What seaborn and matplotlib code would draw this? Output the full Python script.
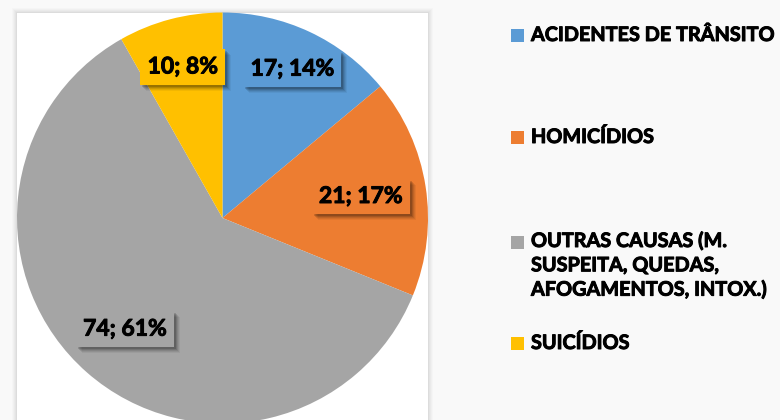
import matplotlib
matplotlib.use("Agg")
import matplotlib.pyplot as plt
import matplotlib.patheffects as pe
from matplotlib.patches import Rectangle
import numpy as np
import seaborn as sns

# Data
categorias = ["ACIDENTES DE TRÂNSITO", "HOMICÍDIOS",
              "OUTRAS CAUSAS (M.\nSUSPEITA, QUEDAS,\nAFOGAMENTOS, INTOX.)", "SUICÍDIOS"]
valores = [17, 21, 74, 10]
percentuais = [14, 17, 61, 8]
cores = sns.color_palette(["#5B9BD5", "#ED7D31", "#A5A5A5", "#FFC000"])

sns.set_theme(style="white")
plt.rcParams["font.family"] = ["Lato", "DejaVu Sans"]

# thicker strokes, closer to Calibri Bold
grosso = [pe.withStroke(linewidth=0.7, foreground="black")]

fig = plt.figure(figsize=(7.8, 4.2), dpi=100, facecolor="#f9f9f9")
ax = fig.add_axes([0, 0, 1, 1])
ax.set_facecolor("none")

# white frame behind the pie, with soft shadow
for k, a in enumerate([0.03, 0.04, 0.05, 0.06, 0.08]):
    d = 5 - k
    ax.add_patch(Rectangle((17 - d, -10 - d), 411 + 2 * d, 417 + 2 * d,
                           facecolor="#888888", alpha=a, edgecolor="none", zorder=0))
ax.add_patch(Rectangle((17, -10), 411, 417, facecolor="white", edgecolor="none", zorder=0.5))

cx, cy, R = 222.5, 202, 205.5
wedges, _ = ax.pie(valores, colors=cores, startangle=90, counterclock=False,
                   center=(cx, cy), radius=R, frame=True,
                   wedgeprops=dict(linewidth=0, zorder=1))

ax.set_xlim(0, 780)
ax.set_ylim(0, 420)
ax.set_aspect("equal")
ax.axis("off")

# data labels (Excel style boxes with shadow)
raio_rot = [0.80, 0.68, 0.72, 0.76]
rotulos = []
for w, v, p, c, rr in zip(wedges, valores, percentuais, cores, raio_rot):
    ang = np.deg2rad((w.theta1 + w.theta2) / 2)
    x = cx + rr * R * np.cos(ang)
    y = cy + rr * R * np.sin(ang)
    t = ax.text(x, y, f"{v}; {p}%", ha="center", va="center", fontsize=16.5,
                fontweight="bold", color="black", zorder=3, path_effects=grosso,
                bbox=dict(boxstyle="square,pad=0.32", facecolor=c, edgecolor="none"))
    rotulos.append(t)

fig.canvas.draw()
inv = ax.transData.inverted()
for t in rotulos:
    bb = t.get_bbox_patch().get_window_extent().transformed(inv)
    for dx, a in [(6, 0.05), (5, 0.07), (4, 0.09), (3, 0.12), (2, 0.15)]:
        ax.add_patch(Rectangle((bb.x0 + dx, bb.y0 - dx), bb.width, bb.height,
                               facecolor="black", alpha=a, edgecolor="none", zorder=2))

# legend
leg_y = [384, 282, 177, 76]
for cat, c, y in zip(categorias, cores, leg_y):
    ax.add_patch(Rectangle((511, y - 6), 13, 13, facecolor=c, edgecolor="none", zorder=2))
    if "\n" in cat:
        ax.text(531, y + 12, cat, ha="left", va="top", fontsize=14.3,
                fontweight="bold", color="black", linespacing=1.27, path_effects=grosso)
    else:
        ax.text(531, y + 1, cat, ha="left", va="center", fontsize=14.3,
                fontweight="bold", color="black", path_effects=grosso)

fig.savefig("out.png", dpi=100, facecolor=fig.get_facecolor())
